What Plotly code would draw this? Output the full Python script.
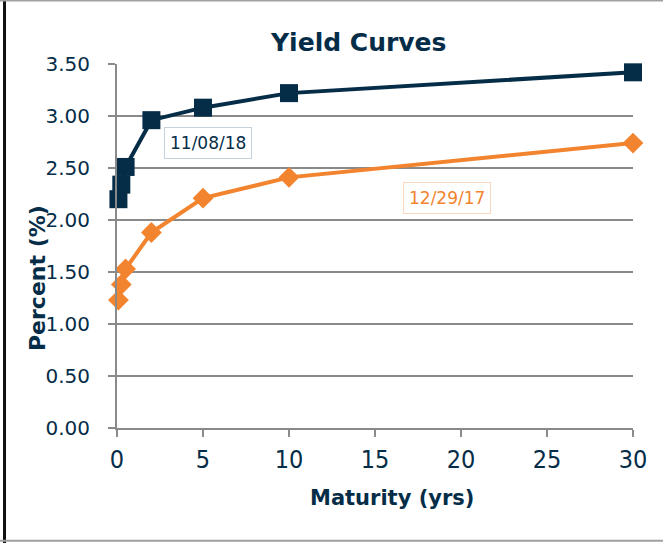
import plotly.graph_objects as go

maturity = [0.083, 0.25, 0.5, 2, 5, 10, 30]
yield_110818 = [2.20, 2.34, 2.51, 2.96, 3.08, 3.22, 3.42]
yield_122917 = [1.23, 1.38, 1.53, 1.88, 2.21, 2.41, 2.74]
x_ticks = [0, 5, 10, 15, 20, 25, 30]
y_ticks = [0, 0.5, 1.0, 1.5, 2.0, 2.5, 3.0, 3.5]

NAVY = "#062d48"
ORANGE = "#f2842f"
GRID = "#8a8a8a"
FONT = "DejaVu Sans"
FONT_C = "DejaVu Sans Condensed, DejaVu Sans"

fig = go.Figure()
fig.add_trace(go.Scatter(
    x=maturity, y=yield_122917, mode="lines+markers", name="12/29/17",
    line=dict(color=ORANGE, width=4),
    marker=dict(symbol="diamond", size=16, color=ORANGE),
    cliponaxis=False,
))
fig.add_trace(go.Scatter(
    x=maturity, y=yield_110818, mode="lines+markers", name="11/08/18",
    line=dict(color=NAVY, width=4),
    marker=dict(symbol="square", size=18, color=NAVY),
    cliponaxis=False,
))

fig.add_annotation(x=5.3, y=2.74, text="11/08/18", showarrow=False,
                   font=dict(family=FONT, size=17, color=NAVY),
                   bordercolor="#c5d2dc", borderwidth=1, borderpad=5,
                   bgcolor="white")
fig.add_annotation(x=19.2, y=2.21, text="12/29/17", showarrow=False,
                   font=dict(family=FONT, size=17, color=ORANGE),
                   bordercolor="#fbd9c0", borderwidth=1, borderpad=5,
                   bgcolor="white")

# axis titles and chart title as positioned annotations
fig.add_annotation(xref="paper", yref="paper", x=-0.155, y=0.412,
                   xanchor="center", yanchor="middle",
                   text="<b>Percent (%)</b>", textangle=-90, showarrow=False,
                   font=dict(family=FONT, size=22, color=NAVY))
fig.add_annotation(xref="paper", yref="paper", x=0.533, y=-0.192,
                   xanchor="center", yanchor="middle",
                   text="<b>Maturity (yrs)</b>", showarrow=False,
                   font=dict(family=FONT, size=21, color=NAVY))
fig.add_annotation(xref="paper", yref="paper", x=0.467, y=1.06,
                   xanchor="center", yanchor="middle",
                   text="<b>Yield Curves</b>", showarrow=False,
                   font=dict(family=FONT, size=25, color=NAVY))

# outer frame
fig.add_shape(type="line", xref="paper", yref="paper",
              x0=-0.218, x1=-0.218, y0=-0.32, y1=1.2,
              line=dict(color="#111111", width=3))
fig.add_shape(type="line", xref="paper", yref="paper",
              x0=-0.23, x1=1.1, y0=-0.31, y1=-0.31,
              line=dict(color="#a0a0a0", width=2))
fig.add_shape(type="line", xref="paper", yref="paper",
              x0=-0.23, x1=1.1, y0=1.1745, y1=1.1745,
              line=dict(color="#a0a0a0", width=2))

fig.update_layout(
    width=663, height=543,
    margin=dict(l=117, r=30, t=64, b=115),
    paper_bgcolor="white", plot_bgcolor="white",
    showlegend=False,
    font=dict(family=FONT, color=NAVY),
)
fig.update_xaxes(
    range=[0, 30], tickvals=x_ticks, showgrid=False,
    showline=True, linecolor=GRID, linewidth=2,
    ticks="outside", ticklen=7, tickwidth=2, tickcolor=GRID,
    ticklabelstandoff=1,
    tickfont=dict(family=FONT_C, size=25, color=NAVY),
    zeroline=False,
)
fig.update_yaxes(
    range=[0, 3.5], tickvals=y_ticks, tickformat=".2f",
    showgrid=True, gridcolor=GRID, gridwidth=2,
    showline=True, linecolor=GRID, linewidth=2,
    ticks="outside", ticklen=7, tickwidth=2, tickcolor=GRID,
    ticklabelstandoff=14,
    tickfont=dict(family=FONT, size=20, color=NAVY),
    zeroline=False,
)

fig.write_html("out.html", config={"displayModeBar": False},
               post_script="document.body.style.margin='0';")
